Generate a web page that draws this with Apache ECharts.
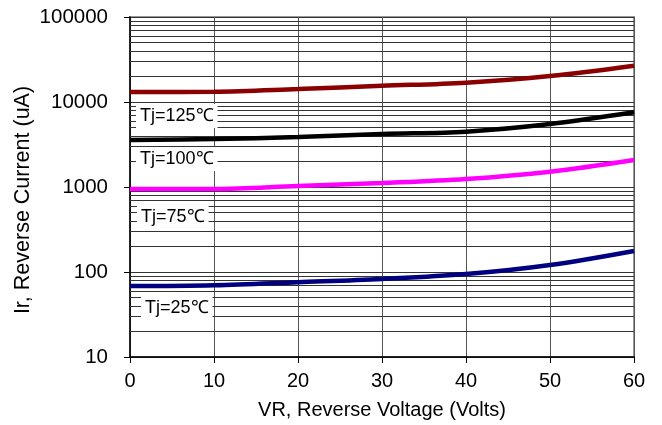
<!DOCTYPE html>
<html>
<head>
<meta charset="utf-8">
<script src="https://cdn.jsdelivr.net/npm/echarts@6/dist/echarts.min.js"></script>
<style>html,body{margin:0;padding:0;background:#fff;}#c{width:662px;height:425px;}</style>
</head>
<body>
<div id="c"></div>
<script>
var voltages = [0, 10, 20, 30, 40, 50, 60];
var tj125 = [13100, 13200, 14200, 15500, 16900, 20200, 26700];
var tj100 = [3570, 3670, 3870, 4200, 4480, 5510, 7570];
var tj75 = [947, 947, 1027, 1114, 1242, 1514, 2080];
var tj25 = [68.4, 70, 76, 83, 94.7, 121, 177];
var minorTicks = [20,30,40,50,60,70,80,90,200,300,400,500,600,700,800,900,2000,3000,4000,5000,6000,7000,8000,9000,20000,30000,40000,50000,60000,70000,80000,90000];
var labels = ['Tj=125℃', 'Tj=100℃', 'Tj=75℃', 'Tj=25℃'];
var xTitle = 'VR, Reverse Voltage (Volts)';
var yTitle = 'Ir, Reverse Current (uA)';

function pairs(vals) { return voltages.map(function (v, i) { return [v, vals[i]]; }); }
var font = 'Liberation Sans, Arial, sans-serif';

var chart = echarts.init(document.getElementById('c'));
function curve(vals, color) {
  return { type: 'line', data: pairs(vals), smooth: 0.35, symbol: 'none', z: 5,
    lineStyle: { color: color, width: 4.5 }, itemStyle: { color: color } };
}
chart.setOption({
  animation: false,
  backgroundColor: '#fff',
  grid: { left: 130, top: 17, right: 28, bottom: 68, show: true, borderColor: '#999', borderWidth: 2, backgroundColor: '#fff' },
  xAxis: {
    type: 'value', min: 0, max: 60, interval: 10,
    name: xTitle, nameLocation: 'middle', nameGap: 43,
    nameTextStyle: { fontSize: 20, color: '#000', fontFamily: font },
    axisLine: { lineStyle: { color: '#000', width: 1.5 } },
    axisTick: { show: true, inside: false, length: 6, lineStyle: { color: '#000' } },
    axisLabel: { fontSize: 20, color: '#000', fontFamily: font, margin: 14 },
    splitLine: { show: true, lineStyle: { color: '#555', width: 1 } }
  },
  yAxis: {
    type: 'log', logBase: 10, min: 10, max: 100000,
    axisLine: { show: true, lineStyle: { color: '#000', width: 1.5 } },
    axisTick: { show: true, inside: false, length: 6, lineStyle: { color: '#000' } },
    axisLabel: { fontSize: 20.5, color: '#000', fontFamily: font, margin: 22, formatter: function (v) { return String(Math.round(v)); } },
    splitLine: { show: true, lineStyle: { color: '#333', width: 1 } }
  },
  series: [
    { type: 'line', data: [], z: 1, silent: true,
      markLine: { silent: true, symbol: 'none', label: { show: false }, animation: false,
        lineStyle: { color: '#333', width: 1, type: 'solid' },
        data: minorTicks.map(function (t) { return { yAxis: t }; }) } },
    curve(tj125, '#8b0000'),
    curve(tj100, '#000000'),
    curve(tj75, '#ff00ff'),
    curve(tj25, '#000080')
  ],
  graphic: [
    { type: 'text', x: 23, y: 200, rotation: Math.PI / 2, z: 100, style: { text: yTitle, fontSize: 21.5, fontFamily: font, fill: '#000', align: 'center', verticalAlign: 'middle' } },
    { type: 'text', left: 136, top: 104, z: 100, style: { text: labels[0], fontSize: 18, fontFamily: font, fill: '#000', backgroundColor: '#fff', padding: [3, 4] } },
    { type: 'text', left: 136, top: 147, z: 100, style: { text: labels[1], fontSize: 18, fontFamily: font, fill: '#000', backgroundColor: '#fff', padding: [3, 4] } },
    { type: 'text', left: 137, top: 205, z: 100, style: { text: labels[2], fontSize: 18, fontFamily: font, fill: '#000', backgroundColor: '#fff', padding: [3, 4] } },
    { type: 'text', left: 141, top: 296, z: 100, style: { text: labels[3], fontSize: 18, fontFamily: font, fill: '#000', backgroundColor: '#fff', padding: [3, 4] } }
  ]
});
</script>
</body>
</html>
